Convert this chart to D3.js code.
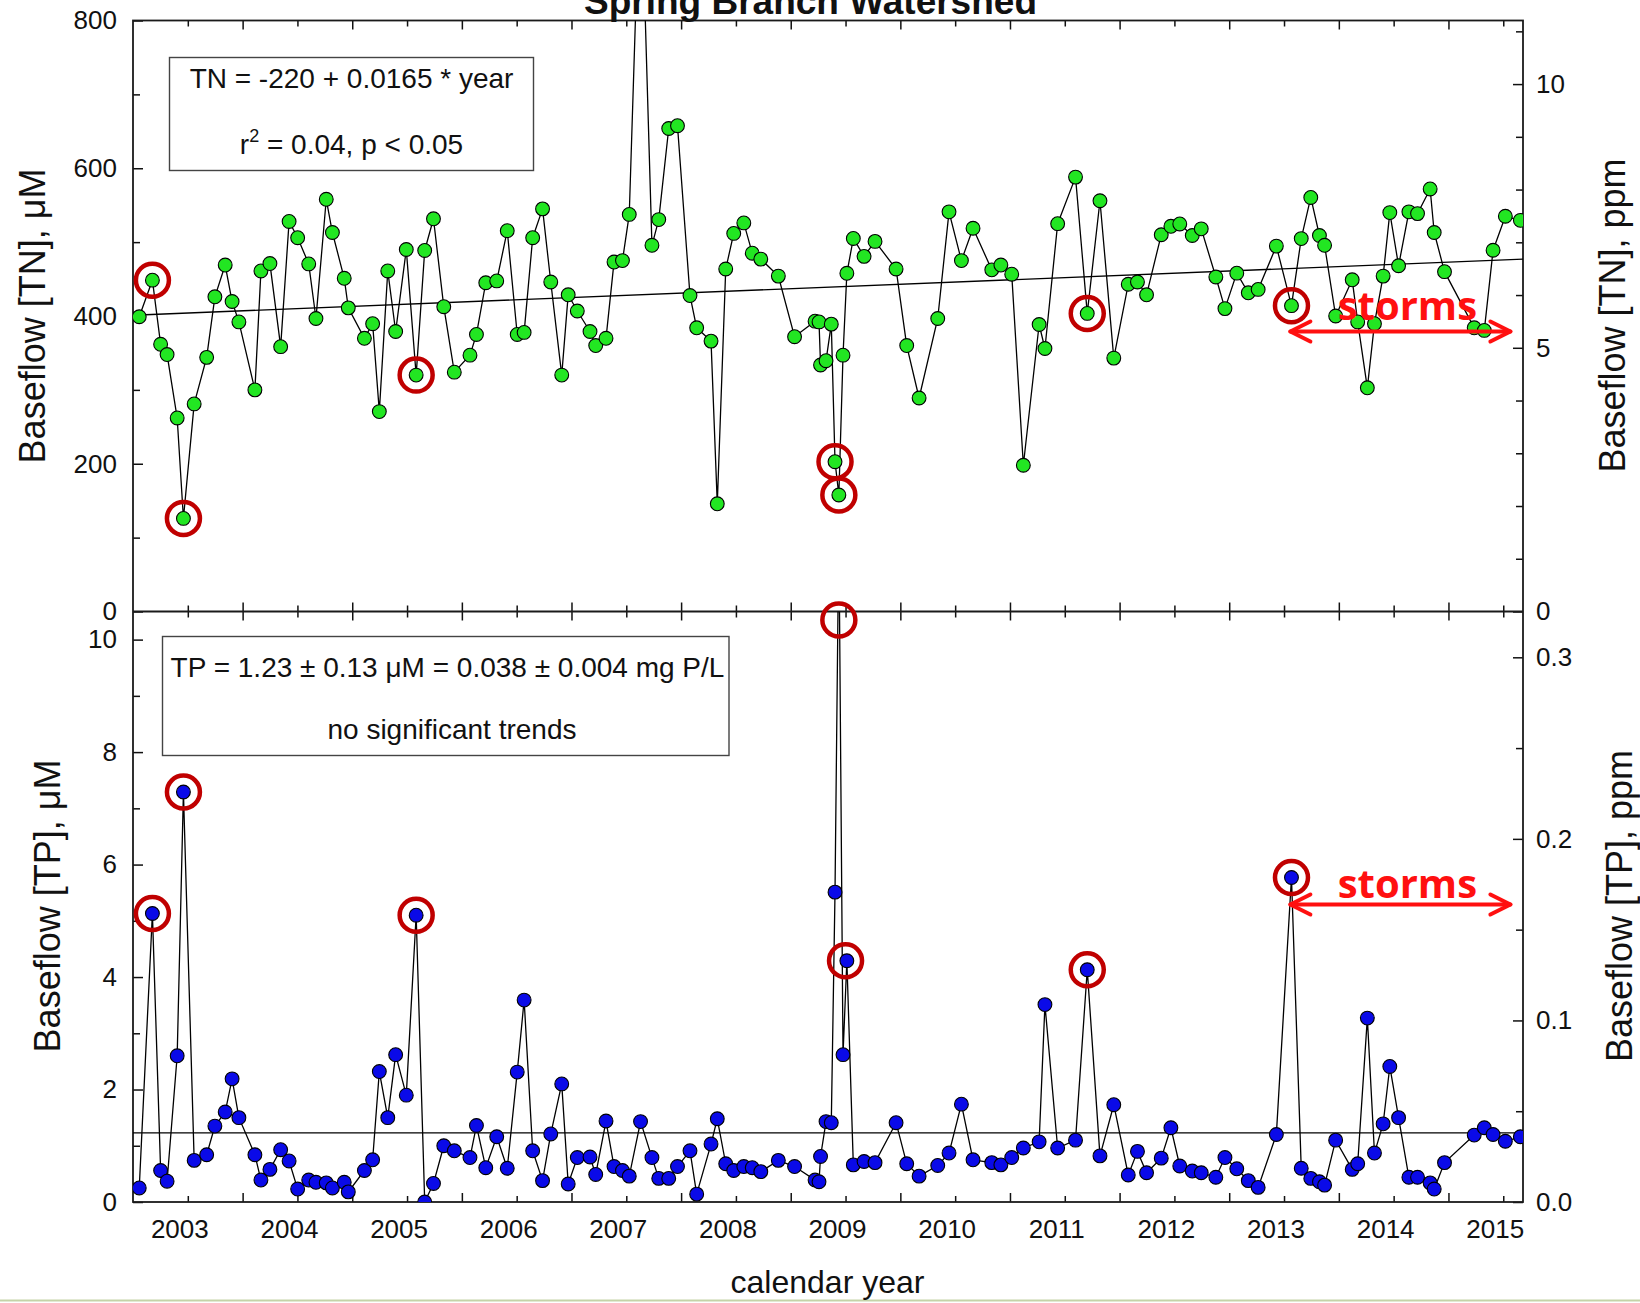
<!DOCTYPE html>
<html>
<head>
<meta charset="utf-8">
<script src="https://cdn.jsdelivr.net/npm/d3@7"></script>
<style>
  body { margin: 0; background: #fff; }
  text { font-family: "Liberation Sans", Arial, sans-serif; }
</style>
</head>
<body>
<div id="maViz"></div>
<script>
// ---------- Données ----------
// dates d'échantillonnage communes TN / TP (année décimale)
const annees = [
  2002.557, 2002.677, 2002.752, 2002.811, 2002.903, 2002.960, 2003.058, 2003.172, 2003.247, 2003.341,
  2003.404, 2003.466, 2003.612, 2003.667, 2003.749, 2003.847, 2003.924, 2004.002, 2004.103, 2004.169,
  2004.263, 2004.319, 2004.427, 2004.464, 2004.611, 2004.686, 2004.747, 2004.824, 2004.896, 2004.993,
  2005.083, 2005.161, 2005.241, 2005.335, 2005.431, 2005.574, 2005.633, 2005.718, 2005.818, 2005.914,
  2006.005, 2006.068, 2006.146, 2006.236, 2006.311, 2006.411, 2006.470, 2006.553,
  2006.669, 2006.721, 2006.815, 2006.888, 2006.965, 2007.027, 2007.130, 2007.234, 2007.296, 2007.387,
  2007.467, 2007.581, 2007.642, 2007.773, 2007.830, 2007.907, 2007.980, 2008.072, 2008.149, 2008.227,
  2008.387, 2008.535, 2008.722, 2008.758, 2008.772, 2008.822, 2008.870, 2008.904, 2008.939, 2008.977,
  2009.012, 2009.071, 2009.169, 2009.269, 2009.461, 2009.558, 2009.671, 2009.841, 2009.944, 2010.057,
  2010.163, 2010.334, 2010.417, 2010.516, 2010.622,
  2010.766, 2010.819, 2010.935, 2011.098, 2011.205, 2011.321, 2011.447, 2011.579, 2011.663, 2011.746,
  2011.880, 2011.968, 2012.049, 2012.163, 2012.245, 2012.378, 2012.461, 2012.569, 2012.674, 2012.764,
  2012.930, 2013.068, 2013.157, 2013.244, 2013.323, 2013.370, 2013.471, 2013.622, 2013.672, 2013.760,
  2013.825, 2013.904, 2013.965, 2014.045, 2014.139, 2014.218, 2014.333, 2014.370, 2014.464, 2014.735,
  2014.827, 2014.907, 2015.019, 2015.156
];

// TN en µM
const tn = [
  399, 448.5, 361.7, 347.8, 262, 126, 281, 344, 426, 469,
  419.6, 392, 300, 461, 471, 358.5, 528, 506, 470.5, 396.6,
  558, 513, 451, 411, 369.8, 389.6, 270.6, 461, 379, 490,
  320, 488.7, 531.6, 412.6, 324, 347, 375, 445, 447.5, 515.5,
  375, 377.8, 506, 545, 446, 320, 428.7, 406.8,
  379, 360, 369.8, 473, 475, 537.5, 1020, 495.7, 530.5, 653.8,
  657.6, 427.7, 384, 366, 145.8, 463.6, 511.8, 526, 485, 477,
  454, 372, 393, 392, 333.7, 339.5, 389, 202.8, 157.7, 347,
  457.8, 505, 480.7, 501, 463.6, 360, 289, 396.6, 541, 475,
  518.8, 462.5, 469, 456.6, 198,
  388.5, 356, 525, 588, 403.5, 556, 343, 443, 446, 428.7,
  510, 521.4, 524.6, 509, 518, 452.8, 410, 458, 431.4, 436,
  494.6, 414, 504.8, 560.5, 509, 495.7, 400, 449, 392, 302.8,
  389.6, 454, 540, 468, 541, 538.6, 572, 513, 460, 384,
  380.5, 489, 535, 529.5
];

// TP en µM
const tp = [
  0.25, 5.13, 0.56, 0.37, 2.6, 7.29, 0.74, 0.84, 1.35, 1.6,
  2.19, 1.5, 0.84, 0.39, 0.58, 0.93, 0.73, 0.23, 0.39, 0.35,
  0.34, 0.25, 0.35, 0.18, 0.56, 0.75, 2.32, 1.5, 2.62, 1.9,
  5.1, 0.0, 0.33, 1.0, 0.91, 0.79, 1.36, 0.61, 1.16, 0.6,
  2.31, 3.59, 0.91, 0.38, 1.21, 2.1, 0.32, 0.79,
  0.8, 0.49, 1.44, 0.63, 0.56, 0.46, 1.43, 0.79, 0.42, 0.42,
  0.63, 0.91, 0.14, 1.03, 1.48, 0.68, 0.56, 0.63, 0.61, 0.54,
  0.74, 0.63, 0.39, 0.36, 0.81, 1.43, 1.41, 5.51, 12, 2.62,
  4.29, 0.66, 0.72, 0.7, 1.41, 0.68, 0.46, 0.65, 0.87, 1.74,
  0.75, 0.7, 0.66, 0.79, 0.96,
  1.07, 3.51, 0.96, 1.1, 4.13, 0.82, 1.73, 0.48, 0.9, 0.52,
  0.78, 1.32, 0.64, 0.55, 0.52, 0.44, 0.79, 0.59, 0.38, 0.26,
  1.2, 5.77, 0.6, 0.42, 0.36, 0.3, 1.1, 0.58, 0.68, 3.27,
  0.87, 1.39, 2.41, 1.5, 0.44, 0.44, 0.34, 0.23, 0.7, 1.19,
  1.32, 1.2, 1.08, 1.16
];

// droite de tendance TN et moyenne TP
const tnTendance = [[2002.5, 401], [2015.18, 477]];
const tpMoyenne = 1.23;

// cercles rouges (année, valeur)
const cerclesTN = [[2002.677, 448.5], [2002.960, 126], [2005.083, 320], [2008.904, 202.8],
                   [2008.939, 157.7], [2011.205, 403.5], [2013.068, 414]];
const cerclesTP = [[2002.677, 5.13], [2002.960, 7.29], [2005.083, 5.1], [2008.939, 10.35],
                   [2009.000, 4.29], [2011.205, 4.13], [2013.068, 5.77]];

// flèches "storms" : début, fin, hauteur
const orageTN = {debut: 2013.058, fin: 2015.065, valeur: 379, texte: 394.6, centre: 2014.125};
const orageTP = {debut: 2013.058, fin: 2015.065, valeur: 5.29, texte: 5.41, centre: 2014.125};

// graduations
const anneesLabels = d3.range(2003, 2016);
const anneesMilieu = d3.range(2003.5, 2015, 1);
const ticksTN = [0, 200, 400, 600, 800];
const ticksTNmin = [100, 300, 500, 700];
const ticksTP = [0, 2, 4, 6, 8, 10];
const ticksTPmin = [1, 3, 5, 7, 9];
const ticksTNppm = [0, 5, 10];
const ticksTNppmMin = [1, 2, 3, 4, 6, 7, 8, 9, 11];
const ticksTPppm = [0, 0.1, 0.2, 0.3];
const ticksTPppmMin = [0.05, 0.15, 0.25];

// ---------- Dimensions ----------
const W = 1640, H = 1303;
const gauche = 133, droite = 1523;
const haut = 20.5, milieu = 611.5, bas = 1202;
const vert = '#22e622', bleu = '#0a0ae8', rougeFonce = '#c00000', rouge = '#ff1010';
const rayon = 6.9;

const svg = d3.select("#maViz").append("svg")
  .attr("width", W).attr("height", H)
  .style("display", "block");

svg.append("rect").attr("width", W).attr("height", H).attr("fill", "#fff");
// petite ligne en bas de l'image
svg.append("line").attr("x1", 0).attr("x2", W).attr("y1", 1300.5).attr("y2", 1300.5)
  .attr("stroke", "#c5d3a8").attr("stroke-width", 2);

// ---------- Echelles ----------
const x = d3.scaleLinear().domain([2002.5, 2015.18]).range([gauche, droite]);
const yTN = d3.scaleLinear().domain([0, 800]).range([milieu, haut]);
const yTNppm = d3.scaleLinear().domain([0, 800 * 14.007 / 1000]).range([milieu, haut]);
const yTP = d3.scaleLinear().domain([0, 10.5]).range([bas, milieu]);
const yTPppm = d3.scaleLinear().domain([0, 10.5 * 30.974 / 1000]).range([bas, milieu]);

// clips
const defs = svg.append("defs");
defs.append("clipPath").attr("id", "clipTN").append("rect")
  .attr("x", gauche).attr("y", haut).attr("width", droite - gauche).attr("height", milieu - haut);
defs.append("clipPath").attr("id", "clipTP").append("rect")
  .attr("x", gauche).attr("y", milieu).attr("width", droite - gauche).attr("height", bas - milieu);

// ---------- Axes ----------
function axe(gen, transform, valeurs, taille, format, pad) {
  const g = svg.append("g")
    .attr("transform", transform)
    .call(gen.tickValues(valeurs).tickSize(taille).tickPadding(pad || 3).tickFormat(format));
  // le call remet font-size à 10 -> on écrase après
  g.attr("font-size", 26)
    .attr("font-family", '"Liberation Sans", Arial, sans-serif')
    .attr("color", "#111");
  g.select(".domain").remove();
  g.selectAll("line").attr("stroke-width", 1.5);
  return g;
}

// gauche
axe(d3.axisLeft(yTN), `translate(${gauche},0)`, ticksTN, -10, d3.format("d"), 16);
axe(d3.axisLeft(yTN), `translate(${gauche},0)`, ticksTNmin, -7, () => "");
axe(d3.axisLeft(yTP), `translate(${gauche},0)`, ticksTP, -10, d3.format("d"), 16);
axe(d3.axisLeft(yTP), `translate(${gauche},0)`, ticksTPmin, -7, () => "");

// droite (ppm)
axe(d3.axisRight(yTNppm), `translate(${droite},0)`, ticksTNppm, -10, d3.format("d"), 13);
axe(d3.axisRight(yTNppm), `translate(${droite},0)`, ticksTNppmMin, -7, () => "");
axe(d3.axisRight(yTPppm), `translate(${droite},0)`, ticksTPppm, -10, d3.format(".1f"), 13);
axe(d3.axisRight(yTPppm), `translate(${droite},0)`, ticksTPppmMin, -7, () => "");

// x : haut, milieu (deux sens), bas
axe(d3.axisTop(x), `translate(0,${haut})`, anneesLabels, -6, () => "");
axe(d3.axisTop(x), `translate(0,${haut})`, anneesMilieu, -9, () => "");
axe(d3.axisBottom(x), `translate(0,${milieu})`, anneesLabels, -6, () => "");
axe(d3.axisBottom(x), `translate(0,${milieu})`, anneesMilieu, -9, () => "");
axe(d3.axisTop(x), `translate(0,${milieu})`, anneesLabels, -6, () => "");
axe(d3.axisTop(x), `translate(0,${milieu})`, anneesMilieu, -9, () => "");
axe(d3.axisBottom(x), `translate(0,${bas})`, anneesMilieu, -9, () => "");
axe(d3.axisBottom(x), `translate(0,${bas})`, anneesLabels, -6, d3.format("d"), 18)
  .selectAll("text").attr("dx", -8.5);

// cadres
svg.append("rect").attr("x", gauche).attr("y", haut).attr("width", droite - gauche).attr("height", bas - haut)
  .attr("fill", "none").attr("stroke", "#1a1a1a").attr("stroke-width", 1.8);
svg.append("line").attr("x1", gauche).attr("x2", droite).attr("y1", milieu).attr("y2", milieu)
  .attr("stroke", "#1a1a1a").attr("stroke-width", 1.8);

// ---------- Panneau TN ----------
const dTN = annees.map((a, i) => [a, tn[i]]);
const gTN = svg.append("g").attr("clip-path", "url(#clipTN)");

gTN.append("path")
  .datum(tnTendance)
  .attr("d", d3.line().x(d => x(d[0])).y(d => yTN(d[1])))
  .attr("fill", "none").attr("stroke", "#000").attr("stroke-width", 1.4);

gTN.append("path")
  .datum(dTN)
  .attr("d", d3.line().x(d => x(d[0])).y(d => yTN(d[1])))
  .attr("fill", "none").attr("stroke", "#000").attr("stroke-width", 1.3);

gTN.selectAll("circle")
  .data(dTN)
  .join("circle")
  .attr("cx", d => x(d[0])).attr("cy", d => yTN(d[1]))
  .attr("r", rayon)
  .attr("fill", vert).attr("stroke", "#000").attr("stroke-width", 1.1);

// ---------- Panneau TP ----------
const dTP = annees.map((a, i) => [a, tp[i]]);
const gTP = svg.append("g").attr("clip-path", "url(#clipTP)");

gTP.append("line")
  .attr("x1", gauche).attr("x2", droite)
  .attr("y1", yTP(tpMoyenne)).attr("y2", yTP(tpMoyenne))
  .attr("stroke", "#000").attr("stroke-width", 1.4);

gTP.append("path")
  .datum(dTP)
  .attr("d", d3.line().x(d => x(d[0])).y(d => yTP(d[1])))
  .attr("fill", "none").attr("stroke", "#000").attr("stroke-width", 1.3);

gTP.selectAll("circle")
  .data(dTP.filter(d => d[1] <= 10.5))
  .join("circle")
  .attr("cx", d => x(d[0])).attr("cy", d => yTP(d[1]))
  .attr("r", rayon)
  .attr("fill", bleu).attr("stroke", "#000").attr("stroke-width", 1.1);

// ---------- Cercles rouges ----------
svg.append("g").selectAll("circle")
  .data(cerclesTN)
  .join("circle")
  .attr("cx", d => x(d[0])).attr("cy", d => yTN(d[1]))
  .attr("r", 16.5)
  .attr("fill", "none").attr("stroke", rougeFonce).attr("stroke-width", 4.5);

svg.append("g").selectAll("circle")
  .data(cerclesTP)
  .join("circle")
  .attr("cx", d => x(d[0])).attr("cy", d => yTP(d[1]))
  .attr("r", 16.5)
  .attr("fill", "none").attr("stroke", rougeFonce).attr("stroke-width", 4.5);

// ---------- Fleches storms ----------
function fleche(o, y) {
  const g = svg.append("g").attr("stroke", rouge).attr("stroke-width", 4)
    .attr("fill", "none").attr("stroke-linecap", "round").attr("stroke-linejoin", "round");
  const x1 = x(o.debut), x2 = x(o.fin), yy = y(o.valeur);
  g.append("line").attr("x1", x1).attr("x2", x2).attr("y1", yy).attr("y2", yy);
  g.append("polyline").attr("points", [[x1 + 20, yy - 10], [x1, yy], [x1 + 20, yy + 10]].join(" "));
  g.append("polyline").attr("points", [[x2 - 20, yy - 10], [x2, yy], [x2 - 20, yy + 10]].join(" "));
  svg.append("text")
    .attr("x", x(o.centre)).attr("y", y(o.texte))
    .attr("text-anchor", "middle")
    .style("font-family", '"Open Sans", "Liberation Sans", sans-serif')
    .attr("font-weight", "bold").attr("font-size", 40)
    .attr("fill", rouge)
    .text("storms");
}
fleche(orageTN, yTN);
fleche(orageTP, yTP);

// ---------- Encadrés ----------
svg.append("rect").attr("x", 169.5).attr("y", 57.5).attr("width", 364).attr("height", 113)
  .attr("fill", "none").attr("stroke", "#444").attr("stroke-width", 1.4);
svg.append("text").attr("x", 351.5).attr("y", 88).attr("text-anchor", "middle")
  .attr("font-size", 28).attr("fill", "#111").text("TN = -220 + 0.0165 * year");
const r2 = svg.append("text").attr("x", 351.5).attr("y", 153.5).attr("text-anchor", "middle")
  .attr("font-size", 28).attr("fill", "#111");
r2.append("tspan").text("r");
r2.append("tspan").attr("font-size", 18).attr("dy", -12).text("2");
r2.append("tspan").attr("dy", 12).text(" = 0.04, p < 0.05");

svg.append("rect").attr("x", 162.5).attr("y", 636.5).attr("width", 566.5).attr("height", 119)
  .attr("fill", "none").attr("stroke", "#444").attr("stroke-width", 1.4);
svg.append("text").attr("x", 447.5).attr("y", 677).attr("text-anchor", "middle")
  .attr("font-size", 28).attr("fill", "#111").text("TP = 1.23 ± 0.13 μM = 0.038 ± 0.004 mg P/L");
svg.append("text").attr("x", 452).attr("y", 738.5).attr("text-anchor", "middle")
  .attr("font-size", 28).attr("fill", "#111").text("no significant trends");

// ---------- Titres ----------
// titre coupé en haut, comme sur la figure
svg.append("text").attr("x", 810.5).attr("y", 14).attr("text-anchor", "middle")
  .attr("font-size", 37).attr("font-weight", "bold").attr("fill", "#111")
  .text("Spring Branch Watershed");

svg.append("text").attr("x", 827.5).attr("y", 1293).attr("text-anchor", "middle")
  .attr("font-size", 32).attr("fill", "#111").text("calendar year");

function titreY(txt, cx, cy) {
  svg.append("text")
    .attr("transform", `translate(${cx},${cy}) rotate(-90)`)
    .attr("text-anchor", "middle").attr("dy", "0.35em")
    .attr("font-size", 36).attr("fill", "#111")
    .text(txt);
}
titreY("Baseflow [TN], μM", 32, 316);
titreY("Baseflow [TP], μM", 47, 906);
titreY("Baseflow [TN], ppm", 1612, 315.5);
titreY("Baseflow [TP], ppm", 1619, 906);
</script>
</body>
</html>
